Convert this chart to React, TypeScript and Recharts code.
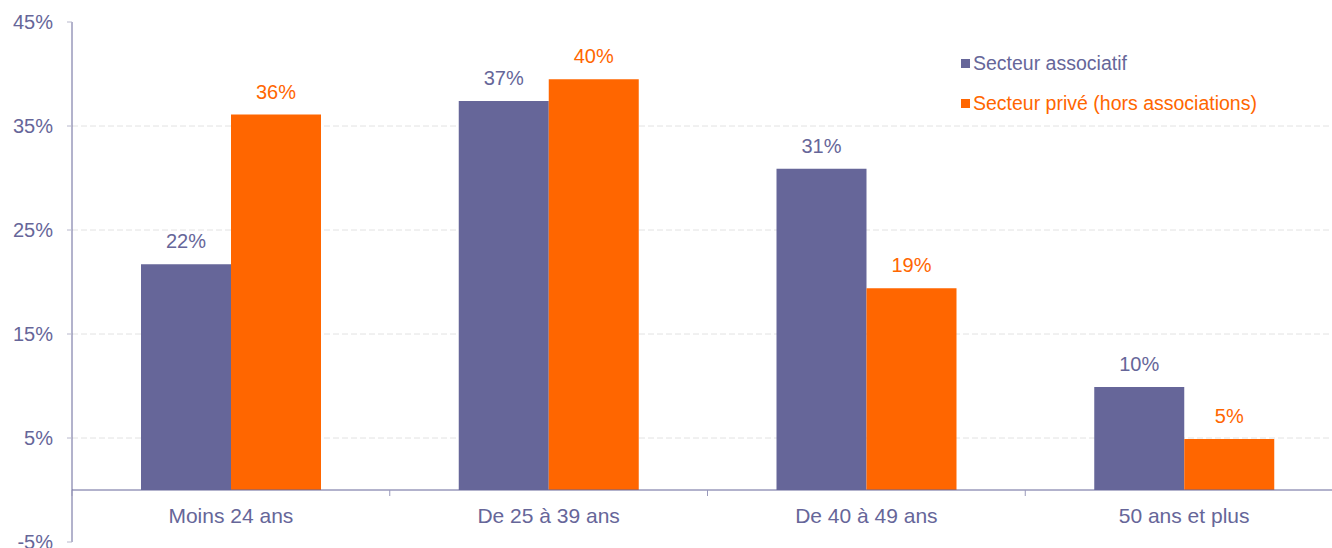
import React from "react";
import { BarChart, Bar, XAxis, YAxis, CartesianGrid, LabelList, Legend, ReferenceLine } from "recharts";

const categories = ["Moins 24 ans", "De 25 à 39 ans", "De 40 à 49 ans", "50 ans et plus"];
const associatif = [21.7, 37.4, 30.9, 9.9];
const prive = [36.1, 39.5, 19.4, 4.9];
const yTicks = [-5, 5, 15, 25, 35, 45];
const gridValues = [5, 15, 25, 35];
const seriesNames = ["Secteur associatif", "Secteur privé (hors associations)"];
const seriesColors = ["#666699", "#FF6600"];

const data = categories.map((c, i) => ({ cat: c, a: associatif[i], p: prive[i] }));

const FONT = "'Liberation Sans', Arial, sans-serif";
const CHART_W = 1345;
const CHART_H = 560;
const MARGIN = { top: 22, right: 2, left: 0, bottom: 0 };
const Y_W = 72;
const X_H = 18;
const BAND = (CHART_W - MARGIN.left - MARGIN.right - Y_W) / categories.length;

const XTick = (props: any) => {
  const { x, y, payload } = props;
  const left = x - BAND / 2;
  return (
    <g>
      <line x1={left} x2={left} y1={y - 52} y2={y - 46} stroke="#9999bb" strokeWidth={1} />
      <text x={x} y={y - 19} textAnchor="middle" fill="#666699" fontSize={21} fontFamily={FONT}>
        {payload.value}
      </text>
    </g>
  );
};

const LegendContent = () => (
  <div style={{ fontFamily: FONT, fontSize: 19.5 }}>
    {seriesNames.map((n, i) => (
      <div key={n} style={{ display: "flex", alignItems: "center", height: 40, color: seriesColors[i], whiteSpace: "nowrap" }}>
        <span style={{ display: "inline-block", width: 9, height: 9, background: seriesColors[i], marginRight: 3 }} />
        {n}
      </div>
    ))}
  </div>
);

const fmt = (v: any) => `${Math.round(Number(v))}%`;

export default function App() {
  return (
    <div style={{ position: "absolute", left: 0, top: 0, width: 1332, height: 548, overflow: "hidden", background: "#fff" }}>
      <BarChart width={CHART_W} height={CHART_H} data={data} margin={MARGIN} barGap={0} barSize={90}>
        <CartesianGrid vertical={false} horizontalValues={gridValues} stroke="#e2e2e2" strokeDasharray="6 3" />
        <YAxis
          width={Y_W}
          domain={[-5, 45]}
          ticks={yTicks}
          interval={0}
          tickFormatter={(v: number) => `${v}%`}
          tickSize={5}
          tickMargin={14}
          axisLine={{ stroke: "#666699" }}
          tickLine={{ stroke: "#b8b8cc" }}
          tick={{ fill: "#666699", fontSize: 20, fontFamily: FONT }}
        />
        <XAxis dataKey="cat" height={X_H} axisLine={false} tickLine={false} tickSize={0} tickMargin={0} interval={0} tick={<XTick />} />
        <ReferenceLine y={0} stroke="#666699" strokeWidth={1} ifOverflow="extendDomain" />
        <Legend
          layout="vertical"
          align="center"
          verticalAlign="middle"
          content={<LegendContent />}
          wrapperStyle={{ left: 961, top: 43, width: "auto" }}
        />
        <Bar dataKey="a" name={seriesNames[0]} fill={seriesColors[0]} isAnimationActive={false}>
          <LabelList dataKey="a" position="top" offset={16} formatter={fmt} fill={seriesColors[0]} fontSize={20} fontFamily={FONT} />
        </Bar>
        <Bar dataKey="p" name={seriesNames[1]} fill={seriesColors[1]} isAnimationActive={false}>
          <LabelList dataKey="p" position="top" offset={16} formatter={fmt} fill={seriesColors[1]} fontSize={20} fontFamily={FONT} />
        </Bar>
      </BarChart>
    </div>
  );
}
